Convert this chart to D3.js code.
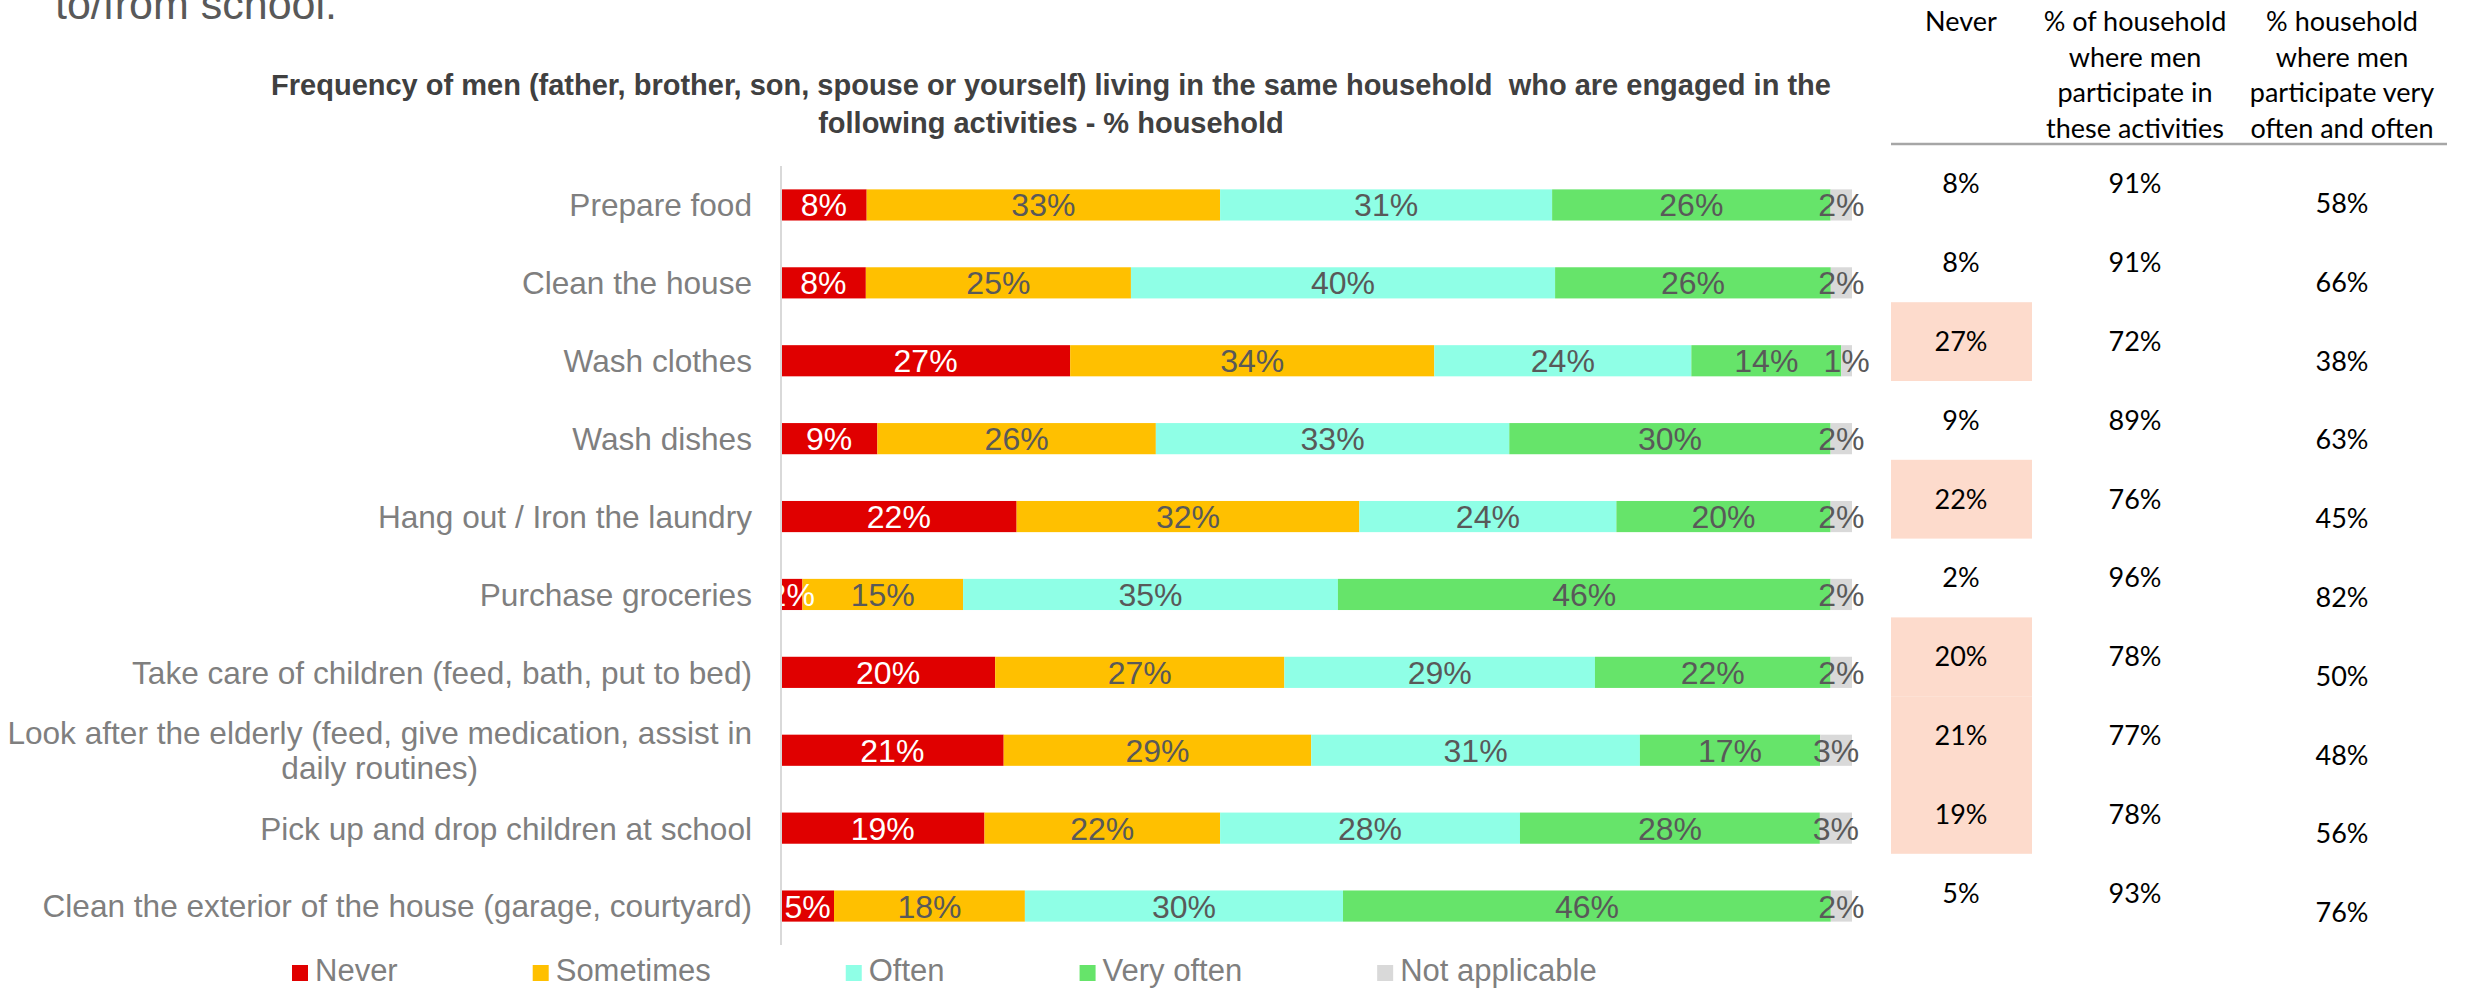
<!DOCTYPE html>
<html>
<head>
<meta charset="utf-8">
<script src="https://cdn.jsdelivr.net/npm/d3@7"></script>
<style>
  html, body { margin: 0; padding: 0; background: #ffffff; overflow: hidden; }
  svg { display: block; }
</style>
</head>
<body>
<svg id="chart" width="2465" height="989"></svg>
<script>
// Household activities and how often men take part in them (% of households)
const categories = [
  "Prepare food",
  "Clean the house",
  "Wash clothes",
  "Wash dishes",
  "Hang out / Iron the laundry",
  "Purchase groceries",
  "Take care of children (feed, bath, put to bed)",
  "Look after the elderly (feed, give medication, assist in daily routines)",
  "Pick up and drop children at school",
  "Clean the exterior of the house (garage, courtyard)"
];

const seriesNames = ["Never", "Sometimes", "Often", "Very often", "Not applicable"];

const never         = [8, 8, 27, 9, 22, 2, 20, 21, 19, 5];
const sometimes     = [33, 25, 34, 26, 32, 15, 27, 29, 22, 18];
const often         = [31, 40, 24, 33, 24, 35, 29, 31, 28, 30];
const veryOften     = [26, 26, 14, 30, 20, 46, 22, 17, 28, 46];
const notApplicable = [2, 2, 1, 2, 2, 2, 2, 3, 3, 2];

// Summary table on the right
const tableHeaders = [
  ["Never"],
  ["% of household", "where men", "participate in", "these activities"],
  ["% household", "where men", "participate very", "often and often"]
];
const neverShare        = [8, 8, 27, 9, 22, 2, 20, 21, 19, 5];
const participateShare  = [91, 91, 72, 89, 76, 96, 78, 77, 78, 93];
const oftenShare        = [58, 66, 38, 63, 45, 82, 50, 48, 56, 76];
const highlightThreshold = 15;

const colors = ["#e00000", "#ffc000", "#8fffe6", "#66e46a", "#d9d9d9"];

const svg = d3.select("#chart");

// Rows built for the stack layout
const rows = categories.map((c, i) => ({
  category: c,
  "Never": never[i],
  "Sometimes": sometimes[i],
  "Often": often[i],
  "Very often": veryOften[i],
  "Not applicable": notApplicable[i]
}));

// 100% stacked bars: each row is normalised to its own total
const stacked = d3.stack().keys(seriesNames).offset(d3.stackOffsetExpand)(rows);

const x = d3.scaleLinear().domain([0, 1]).range([781, 1852]);
const y = d3.scaleBand().domain(categories).range([166, 945])
  .paddingInner(0.6).paddingOuter(0.3);

// Leading text cut off at the top of the slide
svg.append("text")
  .attr("x", 55).attr("y", 19)
  .attr("font-family", "Liberation Sans, Arial, sans-serif")
  .attr("font-size", 43)
  .attr("fill", "#595959")
  .text("to/from school.");

// Chart title
const title = svg.append("text")
  .attr("text-anchor", "middle")
  .attr("font-family", "Liberation Sans, Arial, sans-serif")
  .attr("font-weight", "bold")
  .attr("font-size", 29)
  .attr("fill", "#404040")
  .style("white-space", "pre");
title.append("tspan").attr("x", 1051).attr("y", 95)
  .text("Frequency of men (father, brother, son, spouse or yourself) living in the same household  who are engaged in the");
title.append("tspan").attr("x", 1051).attr("y", 133)
  .text("following activities - % household");

// Bars
const layers = svg.append("g").selectAll("g")
  .data(stacked)
  .join("g")
  .attr("fill", (d, i) => colors[i]);

layers.selectAll("rect")
  .data(d => d.map(s => ({ s, key: d.key })))
  .join("rect")
  .attr("x", d => x(d.s[0]))
  .attr("y", d => y(d.s.data.category))
  .attr("width", d => x(d.s[1]) - x(d.s[0]))
  .attr("height", y.bandwidth());

// Value labels centred in each segment
const labelFont = "Liberation Sans, Arial, sans-serif";
stacked.forEach((layer, li) => {
  svg.append("g").selectAll("text")
    .data(layer)
    .join("text")
    .attr("x", d => (x(d[0]) + x(d[1])) / 2)
    .attr("y", d => y(d.data.category) + y.bandwidth() / 2)
    .attr("dy", "0.36em")
    .attr("text-anchor", "middle")
    .attr("font-family", labelFont)
    .attr("font-size", 32)
    .attr("fill", li === 0 ? "#ffffff" : "#595959")
    .text(d => d.data[layer.key] + "%");
});

// Vertical category axis line
svg.append("line")
  .attr("x1", x(0)).attr("x2", x(0))
  .attr("y1", 166).attr("y2", 945)
  .attr("stroke", "#d9d9d9").attr("stroke-width", 2);

// Category labels, wrapped and right aligned against the axis
const labelRight = 752;
const maxLabelWidth = 760;
const catG = svg.append("g")
  .attr("font-family", labelFont)
  .attr("font-size", 31.6)
  .attr("fill", "#7f7f7f");

categories.forEach(c => {
  const t = catG.append("text").attr("text-anchor", "middle");
  const words = c.split(" ");
  const lines = [];
  let line = [];
  const probe = catG.append("text").attr("visibility", "hidden");
  words.forEach(w => {
    const test = line.concat(w).join(" ");
    probe.text(test);
    if (probe.node().getComputedTextLength() > maxLabelWidth && line.length) {
      lines.push(line.join(" "));
      line = [w];
    } else {
      line.push(w);
    }
  });
  lines.push(line.join(" "));
  let widest = 0;
  lines.forEach(l => { probe.text(l); widest = Math.max(widest, probe.node().getComputedTextLength()); });
  probe.remove();
  const cx = labelRight - widest / 2;
  const cy = y(c) + y.bandwidth() / 2;
  const lh = 35;
  lines.forEach((l, i) => {
    t.append("tspan")
      .attr("x", cx)
      .attr("y", cy + (i - (lines.length - 1) / 2) * lh)
      .attr("dy", "0.36em")
      .text(l);
  });
});

// Legend
const legend = svg.append("g")
  .attr("font-family", labelFont)
  .attr("font-size", 31)
  .attr("fill", "#7f7f7f");
let lx = 292;
seriesNames.forEach((name, i) => {
  legend.append("rect")
    .attr("x", lx).attr("y", 965).attr("width", 16).attr("height", 16)
    .attr("fill", colors[i]);
  const t = legend.append("text")
    .attr("x", lx + 23).attr("y", 970).attr("dy", "0.36em")
    .text(name);
  lx += 23 + t.node().getComputedTextLength() + 135;
});

// Summary table
const tableFont = "Lato, 'Open Sans', sans-serif";
const colX = [1961, 2135, 2342];
const tableRows = d3.scaleBand().domain(categories).range([144.6, 932.6]);

tableHeaders.forEach((lines, ci) => {
  const t = svg.append("text")
    .attr("text-anchor", "middle")
    .attr("font-family", tableFont)
    .attr("font-size", 27)
    .attr("fill", "#000000");
  lines.forEach((l, li) => {
    t.append("tspan").attr("x", colX[ci]).attr("y", 22 + li * 35.5)
      .attr("dy", "0.35em").text(l);
  });
});

svg.append("line")
  .attr("x1", 1891).attr("x2", 2447)
  .attr("y1", 144).attr("y2", 144)
  .attr("stroke", "#a6a6a6").attr("stroke-width", 2.5);

const tg = svg.append("g")
  .attr("font-family", tableFont)
  .attr("font-size", 27)
  .attr("fill", "#000000")
  .attr("text-anchor", "middle");

tg.selectAll("rect.hl")
  .data(categories.filter((c, i) => neverShare[i] > highlightThreshold))
  .join("rect")
  .attr("class", "hl")
  .attr("x", 1891).attr("width", 141)
  .attr("y", d => tableRows(d))
  .attr("height", tableRows.bandwidth())
  .attr("fill", "#fddbcc");

tg.selectAll("text.c1")
  .data(categories)
  .join("text")
  .attr("class", "c1")
  .attr("x", colX[0])
  .attr("y", d => tableRows(d) + tableRows.bandwidth() / 2)
  .attr("dy", "0.35em")
  .text((d, i) => neverShare[i] + "%");

tg.selectAll("text.c2")
  .data(categories)
  .join("text")
  .attr("class", "c2")
  .attr("x", colX[1])
  .attr("y", d => tableRows(d) + tableRows.bandwidth() / 2)
  .attr("dy", "0.35em")
  .text((d, i) => participateShare[i] + "%");

tg.selectAll("text.c3")
  .data(categories)
  .join("text")
  .attr("class", "c3")
  .attr("x", colX[2])
  .attr("y", d => tableRows(d) + tableRows.bandwidth() / 2 + 19.5)
  .attr("dy", "0.35em")
  .text((d, i) => oftenShare[i] + "%");
</script>
</body>
</html>
